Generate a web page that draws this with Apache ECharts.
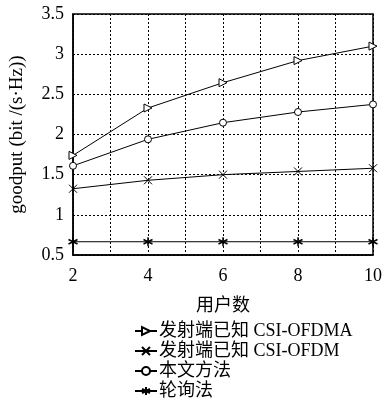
<!DOCTYPE html>
<html><head><meta charset="utf-8">
<script src="https://cdn.jsdelivr.net/npm/echarts@6/dist/echarts.min.js"></script>
<style>html,body{margin:0;padding:0;background:#fff}#c{width:385px;height:405px}</style>
</head><body><div id="c"></div>
<script>
const users = [2, 4, 6, 8, 10];
const ofdma = [1.74, 2.33, 2.645, 2.92, 3.10];
const ofdm = [1.325, 1.43, 1.50, 1.54, 1.58];
const proposed = [1.61, 1.94, 2.147, 2.28, 2.375];
const roundRobin = [0.665, 0.665, 0.665, 0.665, 0.665];
const names = ['发射端已知 CSI-OFDMA', '发射端已知 CSI-OFDM', '本文方法', '轮询法'];
const yLabel = 'goodput (bit /(s·Hz))';
const xLabel = '用户数';

const serif = '"Liberation Serif","DejaVu Serif","Noto Sans CJK SC",serif';
const xSym = 'path://M0,0 L10,10 M10,0 L0,10';
const starSym = 'path://M5,0 L5,10 M0.7,2.5 L9.3,7.5 M0.7,7.5 L9.3,2.5';
function pairs(v){ return users.map((u,i)=>[u,v[i]]); }
function mk(name, data, symbol, size, extra){
  return Object.assign({
    name, type:'line', data:pairs(data), symbol, symbolSize:size,
    lineStyle:{color:'#000', width:1},
    itemStyle:{color:'#fff', borderColor:'#000', borderWidth:1},
    emphasis:{disabled:true}, animation:false
  }, extra||{});
}
const chart = echarts.init(document.getElementById('c'), null, {renderer:'canvas'});
chart.setOption({
  animation:false,
  grid:{left:71, right:8, top:14, bottom:150, show:true, borderColor:'#000', borderWidth:1.5, backgroundColor:'transparent'},
  xAxis:{type:'value', min:2, max:10, interval:1,
    name:xLabel, nameLocation:'middle', nameGap:42,
    nameTextStyle:{fontFamily:serif, fontSize:18, color:'#000'},
    axisLine:{show:true, lineStyle:{color:'#000', width:1.5}},
    axisTick:{show:false},
    axisLabel:{color:'#000', fontFamily:serif, fontSize:18, margin:12,
      formatter:v=> (v%2===0 ? String(v) : '')},
    splitLine:{show:true, lineStyle:{color:'#000', type:[2,2], width:1}}
  },
  yAxis:{type:'value', min:0.5, max:3.5, interval:0.5,
    name:yLabel, nameLocation:'middle', nameGap:46,
    nameTextStyle:{fontFamily:serif, fontSize:19, color:'#000'},
    axisLine:{show:true, lineStyle:{color:'#000', width:1.5}},
    axisTick:{show:false},
    axisLabel:{color:'#000', fontFamily:serif, fontSize:18, margin:9,
      formatter:v=> (Math.abs(v-Math.round(v))<1e-9 ? String(Math.round(v)) : String(v))},
    splitLine:{show:true, lineStyle:{color:'#000', type:[2,2], width:1}}
  },
  legend:{orient:'vertical', left:134, top:322, padding:0, itemGap:2, itemWidth:22, itemHeight:10,
    height:90,
    textStyle:{fontFamily:serif, fontSize:18, color:'#000', padding:[0,0,0,-3]},
    data:names},
  series:[
    mk(names[0], ofdma, 'triangle', 8, {symbolRotate:-90}),
    mk(names[1], ofdm, xSym, 8, {itemStyle:{color:'none', borderColor:'#000', borderWidth:1}}),
    mk(names[2], proposed, 'circle', 7),
    mk(names[3], roundRobin, starSym, 9, {itemStyle:{color:'none', borderColor:'#000', borderWidth:1.5}})
  ]
});
</script>
</body></html>
